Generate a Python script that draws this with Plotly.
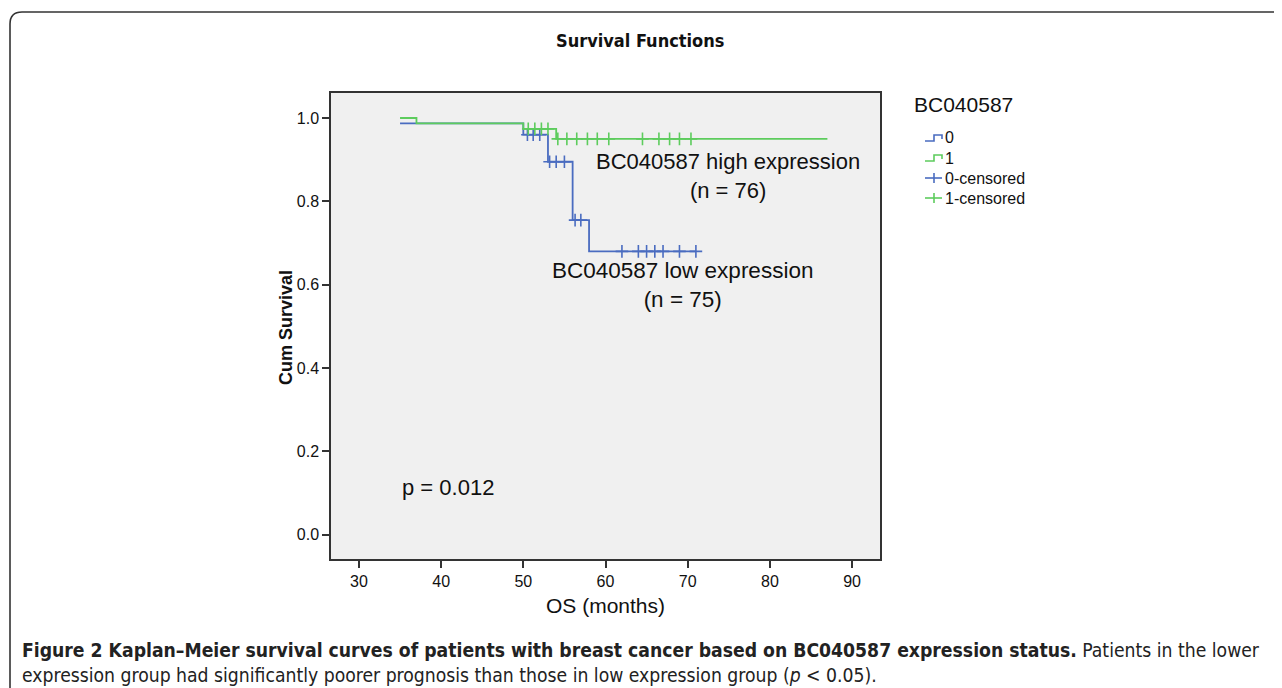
import plotly.graph_objects as go

# ---------------- data ----------------
group_labels = ["0", "1"]
low_times = [35, 50, 53, 56, 58, 71]
low_surv = [0.987, 0.96, 0.895, 0.755, 0.68, 0.68]
high_times = [35, 37, 50, 54, 87]
high_surv = [1.0, 0.987, 0.974, 0.95, 0.95]
low_censored = [50.5, 51.2, 52, 53.2, 54, 55, 56.3, 57, 62, 64, 65, 66, 67, 69, 71]
high_censored = [50.6, 51.4, 52.2, 53, 54.2, 55.3, 56.5, 57.8, 59, 60.4, 64.5, 66.5, 67.8, 69, 70.4]
x_ticks = [30, 40, 50, 60, 70, 80, 90]
y_ticks = [0.0, 0.2, 0.4, 0.6, 0.8, 1.0]
legend_title = "BC040587"
legend_labels = ["0", "1", "0-censored", "1-censored"]

BLUE = "#4a6cc0"
GREEN = "#5dcc5d"

def step_value(times, surv, t):
    v = surv[0]
    for ti, si in zip(times, surv):
        if ti <= t:
            v = si
    return v

low_c_y = [step_value(low_times, low_surv, t) for t in low_censored]
high_c_y = [step_value(high_times, high_surv, t) for t in high_censored]

# ---------------- layout geometry (reference pixels) ----------------
OFF = 8                      # page body margin
W, H = 1282 - OFF, 688 - OFF
PL, PR, PT, PB = 331, 880, 93, 559
def px(x):
    return (x - PL) / (PR - PL)
def py(y):
    return (PB - y) / (PB - PT)

fig = go.Figure()
fig.add_trace(go.Scatter(x=low_times, y=low_surv, mode="lines", line=dict(shape="hv", color=BLUE, width=1.8),
                         name=legend_labels[0]))
fig.add_trace(go.Scatter(x=high_times, y=high_surv, mode="lines", line=dict(shape="hv", color=GREEN, width=1.8),
                         name=legend_labels[1]))
fig.add_trace(go.Scatter(x=low_censored, y=low_c_y, mode="markers",
                         marker=dict(symbol="cross-thin-open", size=9, color=BLUE, line=dict(color=BLUE, width=1.6)),
                         name=legend_labels[2]))
fig.add_trace(go.Scatter(x=high_censored, y=high_c_y, mode="markers",
                         marker=dict(symbol="cross-thin-open", size=9, color=GREEN, line=dict(color=GREEN, width=1.6)),
                         name=legend_labels[3]))

font_main = "Liberation Sans, Arial, sans-serif"
font_narrow = "Liberation Sans Narrow, DejaVu Sans Condensed, sans-serif"

annotations = [
    dict(text="<b>Survival Functions</b>", x=px(640), y=py(40), xref="paper", yref="paper",
         showarrow=False, font=dict(family=font_narrow, size=18, color="#111"), xanchor="center", yanchor="middle"),
    dict(text=legend_title, x=px(912), y=py(105), xref="paper", yref="paper",
         showarrow=False, font=dict(family=font_main, size=21, color="#111"), xanchor="left", yanchor="middle"),
    dict(text="<b>Cum Survival</b>", x=px(286), y=py(328), xref="paper", yref="paper", textangle=-90,
         showarrow=False, font=dict(family=font_main, size=18, color="#111"), xanchor="center", yanchor="middle"),
    dict(text="OS (months)", x=px(605), y=py(605), xref="paper", yref="paper",
         showarrow=False, font=dict(family=font_main, size=21, color="#111"), xanchor="center", yanchor="middle"),
    dict(text="BC040587 high expression<br>(n = 76)", x=74.9, y=0.862, xref="x", yref="y",
         showarrow=False, font=dict(family=font_main, size=22, color="#111"), xanchor="center", yanchor="middle",
         align="center"),
    dict(text="BC040587 low expression<br>(n = 75)", x=69.4, y=0.60, xref="x", yref="y",
         showarrow=False, font=dict(family=font_main, size=22.5, color="#111"), xanchor="center", yanchor="middle",
         align="center"),
    dict(text="p = 0.012", x=35.0, y=0.113, xref="x", yref="y",
         showarrow=False, font=dict(family=font_main, size=22, color="#111"), xanchor="left", yanchor="middle"),
    dict(text="<b>Figure 2 Kaplan\u2013Meier survival curves of patients with breast cancer based on BC040587 expression status.</b>"
              " Patients in the lower<br>expression group had significantly poorer prognosis than those in low expression group (<i>p</i> &lt; 0.05).",
         x=px(20), y=py(663), xref="paper", yref="paper", showarrow=False, align="left",
         font=dict(family=font_narrow, size=19.2, color="#222"), xanchor="left", yanchor="middle"),
]

r = 12
shapes = [
    dict(type="path", xref="paper", yref="paper",
         path=f"M {px(10)},{py(720)} L {px(10)},{py(12 + r)} Q {px(10)},{py(12)} {px(10 + r)},{py(12)} L {px(1320)},{py(12)}",
         line=dict(color="#333", width=1.6)),
]

# ---- custom legend (SPSS style glyphs) ----
leg_rows = [138, 158, 178, 198]
leg_colors = [BLUE, GREEN, BLUE, GREEN]
gx0, gx1, gmid = 925, 942, 934
for i, (yy, col, lab) in enumerate(zip(leg_rows, leg_colors, legend_labels)):
    if i < 2:
        path = (f"M {px(gx0)},{py(yy + 3)} L {px(gmid)},{py(yy + 3)} L {px(gmid)},{py(yy - 3)} "
                f"L {px(gx1)},{py(yy - 3)} L {px(gx1)},{py(yy + 1)}")
        shapes.append(dict(type="path", xref="paper", yref="paper", path=path, line=dict(color=col, width=1.6)))
    else:
        shapes.append(dict(type="line", xref="paper", yref="paper", x0=px(gx0), x1=px(gx1), y0=py(yy), y1=py(yy),
                           line=dict(color=col, width=1.6)))
        shapes.append(dict(type="line", xref="paper", yref="paper", x0=px(gmid), x1=px(gmid),
                           y0=py(yy - 5), y1=py(yy + 5), line=dict(color=col, width=1.6)))
    annotations.append(dict(text=lab, x=px(943), y=py(yy), xref="paper", yref="paper", showarrow=False,
                            font=dict(family=font_main, size=16, color="#111"), xanchor="left", yanchor="middle"))

fig.update_layout(
    width=W, height=H,
    margin=dict(l=PL - OFF, r=W - (PR - OFF), t=PT - OFF, b=H - (PB - OFF), autoexpand=False),
    paper_bgcolor="white", plot_bgcolor="#f0f0f0",
    showlegend=False,
    annotations=annotations,
    shapes=shapes,
    xaxis=dict(range=[26.6, 93.4], tickvals=x_ticks, ticktext=[str(v) for v in x_ticks],
               showgrid=False, zeroline=False, showline=True, mirror=True, linecolor="#333", linewidth=1.5,
               ticks="outside", ticklen=7, tickwidth=1.5, tickcolor="#333",
               tickfont=dict(family=font_main, size=16, color="#111")),
    yaxis=dict(range=[-0.058, 1.06], tickvals=y_ticks, ticktext=[f"{v:.1f}" for v in y_ticks],
               showgrid=False, zeroline=False, showline=True, mirror=True, linecolor="#333", linewidth=1.5,
               ticks="outside", ticklen=7, tickwidth=1.5, tickcolor="#333",
               tickfont=dict(family=font_main, size=16, color="#111")),
)

fig.write_html("out.html")
